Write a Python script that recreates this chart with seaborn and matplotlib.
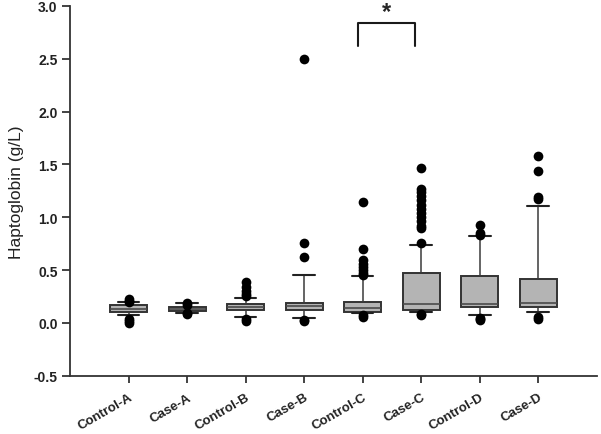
import pandas as pd
import matplotlib
matplotlib.use("Agg")
import matplotlib.pyplot as plt
import seaborn as sns

# Groups and box summary values (g/L)
groups = ["Control-A", "Case-A", "Control-B", "Case-B",
          "Control-C", "Case-C", "Control-D", "Case-D"]
whis_lo = [0.07, 0.09, 0.06, 0.045, 0.094, 0.107, 0.07, 0.10]
q1 = [0.10, 0.115, 0.12, 0.125, 0.10, 0.125, 0.148, 0.148]
median = [0.13, 0.13, 0.15, 0.16, 0.14, 0.18, 0.18, 0.186]
q3 = [0.17, 0.148, 0.18, 0.19, 0.195, 0.47, 0.446, 0.42]
whis_hi = [0.195, 0.19, 0.24, 0.45, 0.44, 0.74, 0.82, 1.11]

# Outlying points per group
out_control_a = [0.23, 0.21, 0.20, 0.04, 0.02, 0.0]
out_case_a = [0.19, 0.17, 0.09, 0.08]
out_control_b = [0.39, 0.34, 0.30, 0.27, 0.25, 0.04, 0.02]
out_case_b = [2.50, 0.76, 0.62, 0.03, 0.02]
out_control_c = [1.14, 0.70, 0.60, 0.56, 0.53, 0.50, 0.47, 0.45, 0.07, 0.06]
out_case_c = [1.47, 1.27, 1.24, 1.20, 1.16, 1.12, 1.08, 1.04, 1.00,
              0.96, 0.92, 0.90, 0.76, 0.08, 0.07]
out_control_d = [0.93, 0.85, 0.83, 0.05, 0.04, 0.03]
out_case_d = [1.58, 1.44, 1.19, 1.17, 0.06, 0.04]
outliers = [out_control_a, out_case_a, out_control_b, out_case_b,
            out_control_c, out_case_c, out_control_d, out_case_d]

sns.set_style("ticks")
plt.rcParams["font.family"] = ["Liberation Sans", "DejaVu Sans"]

fig = plt.figure(figsize=(6.01, 4.35), dpi=100)
ax = fig.add_axes([0.1165, 0.134, 0.8765, 0.85])

# outlier dots on the categorical axis
out_df = pd.DataFrame({
    "group": [g for g, vals in zip(groups, outliers) for _ in vals],
    "value": [v for vals in outliers for v in vals],
})
sns.stripplot(data=out_df, x="group", y="value", order=groups, jitter=False,
              color="black", size=7, linewidth=0, zorder=3, ax=ax)

# boxes from the summary values
stats = []
for i, g in enumerate(groups):
    stats.append({"label": g, "whislo": whis_lo[i], "q1": q1[i], "med": median[i],
                  "q3": q3[i], "whishi": whis_hi[i], "fliers": []})
ax.bxp(stats, positions=range(len(groups)), widths=0.63, capwidths=0.37,
       patch_artist=True, showfliers=False, manage_ticks=False,
       boxprops=dict(facecolor="#b4b4b4", edgecolor="#333333", linewidth=1.4),
       medianprops=dict(color="#4a4a4a", linewidth=1.2),
       whiskerprops=dict(color="#3a3a3a", linewidth=1.1),
       capprops=dict(color="#222222", linewidth=1.5))

# significance bracket between Control-C and Case-C
ax.plot([3.92, 3.92, 4.9, 4.9], [2.62, 2.84, 2.84, 2.62],
        color="#1a1a1a", linewidth=1.5)
ax.text(4.41, 2.84, "*", ha="center", va="bottom", fontsize=17, fontweight="bold")

ax.set_xlim(-1, 8)
ax.set_ylim(-0.5, 3.0)
ax.set_yticks([-0.5, 0.0, 0.5, 1.0, 1.5, 2.0, 2.5, 3.0])
ax.set_yticklabels(["-0.5", "0.0", "0.5", "1.0", "1.5", "2.0", "2.5", "3.0"])
ax.set_xticks(range(len(groups)))
ax.set_xticklabels(groups, rotation=30, ha="right", rotation_mode="anchor")
ax.set_xlabel("")
ax.set_ylabel("Haptoglobin (g/L)", fontsize=12.5, color="#222222", labelpad=7)
ax.tick_params(axis="y", labelsize=10, colors="#222222", length=6, width=1.2, pad=3)
ax.tick_params(axis="x", labelsize=9.5, colors="#222222", length=5, width=1.2, pad=6)
for lab in ax.get_xticklabels() + ax.get_yticklabels():
    lab.set_fontweight("bold")
for side in ["left", "bottom"]:
    ax.spines[side].set_color("#333333")
    ax.spines[side].set_linewidth(1.3)
sns.despine(ax=ax)

fig.savefig("out.png", dpi=100)
